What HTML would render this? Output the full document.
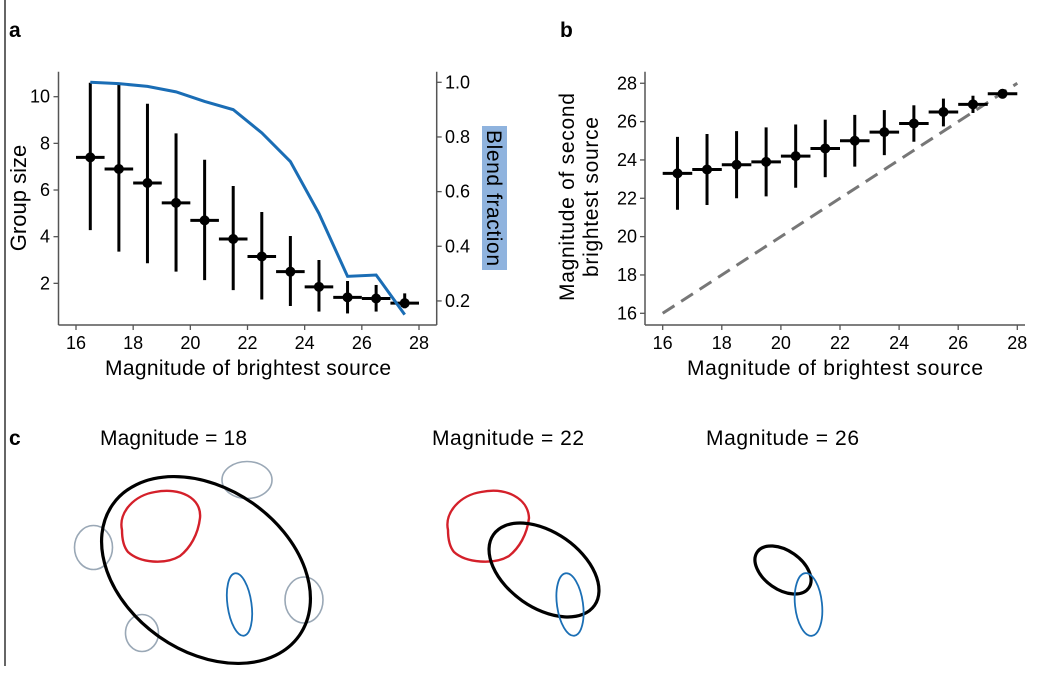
<!DOCTYPE html>
<html><head><meta charset="utf-8">
<style>
html,body{margin:0;padding:0;background:#fff;}
svg{display:block;font-family:"Liberation Sans",sans-serif;}
</style></head>
<body>
<svg id="fig" width="1062" height="684" viewBox="0 0 1062 684" xmlns="http://www.w3.org/2000/svg">
<line x1="5" y1="0" x2="5" y2="666" stroke="#333" stroke-width="1.5"/>
<text x="9" y="37" font-size="21" font-weight="bold">a</text>
<text x="560" y="37" font-size="21" font-weight="bold">b</text>
<text x="9" y="445" font-size="21" font-weight="bold">c</text>
<g id="pa"></g>
<g id="pb"></g>
<g id="pc">
  <text x="100" y="445" font-size="21" textLength="147">Magnitude = 18</text>
  <text x="432" y="445" font-size="21" textLength="152">Magnitude = 22</text>
  <text x="706" y="445" font-size="21" textLength="153">Magnitude = 26</text>
  <g fill="none" stroke="#9aa8b6" stroke-width="1.6">
    <ellipse cx="93.5" cy="547.5" rx="19" ry="22"/>
    <ellipse cx="247" cy="480" rx="25" ry="18.5"/>
    <ellipse cx="304" cy="600" rx="19" ry="23"/>
    <ellipse cx="142" cy="633" rx="16.5" ry="18.5"/>
  </g>
  <ellipse cx="206" cy="570" rx="114" ry="81.5" transform="rotate(35 206 570)" fill="none" stroke="#000" stroke-width="3.2"/>
  <path d="M122,530 C118,512 135,495 155,492 C180,487 202,498 200,518 C198,535 190,548 180,556 C165,565 140,563 128,552 C123,546 122,538 122,530 Z" fill="none" stroke="#d4202a" stroke-width="2.4"/>
  <ellipse cx="239.5" cy="604.5" rx="12" ry="31.5" transform="rotate(-8 239.5 604.5)" fill="none" stroke="#1b6fb5" stroke-width="1.8"/>
  <path d="M448,530 C444,512 461,495 481,492 C506,487 528,498 529,518 C527,535 519,548 509,556 C494,565 466,563 454,552 C449,546 448,538 448,530 Z" fill="none" stroke="#d4202a" stroke-width="2.4"/>
  <ellipse cx="544" cy="570" rx="61.7" ry="37.7" transform="rotate(35 544 570)" fill="none" stroke="#000" stroke-width="3.2"/>
  <ellipse cx="570" cy="604.5" rx="13" ry="31.5" transform="rotate(-8 570 604.5)" fill="none" stroke="#1b6fb5" stroke-width="1.8"/>
  <ellipse cx="783" cy="570" rx="31.4" ry="19.4" transform="rotate(35 783 570)" fill="none" stroke="#000" stroke-width="3.2"/>
  <ellipse cx="808.5" cy="604.5" rx="13.5" ry="31.5" transform="rotate(-6 808.5 604.5)" fill="none" stroke="#1b6fb5" stroke-width="1.8"/>
</g>
</svg>
<script>
const NS="http://www.w3.org/2000/svg";
// Panel a data
const binsA=[16.5,17.5,18.5,19.5,20.5,21.5,22.5,23.5,24.5,25.5,26.5,27.5];
const groupMean=[7.4,6.9,6.3,5.45,4.7,3.9,3.15,2.5,1.85,1.4,1.35,1.15];
const groupHi=[10.6,10.5,9.7,8.43,7.3,6.17,5.06,4.03,3.0,2.1,1.93,1.57];
const groupLo=[4.28,3.36,2.86,2.5,2.14,1.71,1.31,1.03,0.79,0.71,0.79,0.93];
const blendFrac=[1.0,0.995,0.985,0.965,0.93,0.9,0.815,0.71,0.52,0.29,0.295,0.15];
const xTicksA=[16,18,20,22,24,26,28];
const yTicksA=[2,4,6,8,10];
const y2TicksA=["0.2","0.4","0.6","0.8","1.0"];
// Panel b data
const binsB=[16.5,17.5,18.5,19.5,20.5,21.5,22.5,23.5,24.5,25.5,26.5,27.5];
const secMean=[23.3,23.5,23.75,23.9,24.2,24.6,25.0,25.45,25.9,26.5,26.9,27.45];
const secHi=[25.2,25.35,25.5,25.7,25.85,26.1,26.35,26.6,26.85,27.2,27.35,27.7];
const secLo=[21.4,21.65,22.0,22.1,22.55,23.1,23.65,24.25,24.95,25.75,26.45,27.2];
const xTicksB=[16,18,20,22,24,26,28];
const yTicksB=[16,18,20,22,24,26,28];
const diagLine=[16,28];

function mk(parent,tag,attrs){const e=document.createElementNS(NS,tag);for(const k in attrs)e.setAttribute(k,attrs[k]);parent.appendChild(e);return e;}
function txt(parent,x,y,s,size,anchor,extra){const t=mk(parent,"text",Object.assign({x:x,y:y,"font-size":size,"text-anchor":anchor||"middle"},extra||{}));t.textContent=s;return t;}

// ---- Panel a ----
const pa=document.getElementById("pa");
const xA=v=>76+(v-16)*(343/12);
const yA=v=>330-v*23.33;
const y2A=v=>82.3+(1.0-v)*273.3;
let e;
e=mk(pa,"line",{x1:58.5,y1:71.7,x2:58.5,y2:325,stroke:"#555","stroke-width":1.5});


e=mk(pa,"line",{x1:58.5,y1:325,x2:436.7,y2:325,stroke:"#555","stroke-width":1.5});


e=mk(pa,"line",{x1:436.7,y1:71.7,x2:436.7,y2:325,stroke:"#555","stroke-width":1.5});


xTicksA.forEach(v=>{
  e=mk(pa,"line",{x1:xA(v),y1:325,x2:xA(v),y2:330,stroke:"#555","stroke-width":1.3});
  
  
  e=txt(pa,xA(v),349,String(v),18);
  
  
});
yTicksA.forEach(v=>{
  e=mk(pa,"line",{x1:53.5,y1:yA(v),x2:58.5,y2:yA(v),stroke:"#555","stroke-width":1.3});
  
  
  e=txt(pa,50,yA(v)+6,String(v),18,"end");
  
  
});
y2TicksA.forEach(s=>{
  const v=parseFloat(s);
  e=mk(pa,"line",{x1:436.7,y1:y2A(v),x2:441.7,y2:y2A(v),stroke:"#555","stroke-width":1.3});
  
  
  e=txt(pa,445,y2A(v)+6,s,18,"start");
  
  
});
e=txt(pa,248,375,"Magnitude of brightest source",21,"middle",{textLength:286});


e=txt(pa,0,0,"Group size",22,"middle",{transform:"translate(26,198) rotate(-90)"});


e=mk(pa,"rect",{x:482,y:126,width:25,height:144,fill:"#8fb3de"});


e=txt(pa,0,0,"Blend fraction",21,"middle",{transform:"translate(487,198) rotate(90)",textLength:136});


binsA.forEach((b,i)=>{
  e=mk(pa,"line",{x1:xA(b),y1:yA(groupHi[i]),x2:xA(b),y2:yA(groupLo[i]),stroke:"#000","stroke-width":3});
  
  
  e=mk(pa,"line",{x1:xA(b-0.5),y1:yA(groupMean[i]),x2:xA(b+0.5),y2:yA(groupMean[i]),stroke:"#000","stroke-width":3});
  
  
  e=mk(pa,"circle",{cx:xA(b),cy:yA(groupMean[i]),r:5,fill:"#000"});
  
  
});
e=mk(pa,"polyline",{points:binsA.map((b,i)=>xA(b)+","+y2A(blendFrac[i])).join(" "),fill:"none",stroke:"#1a6db5","stroke-width":3});



// ---- Panel b ----
const pb=document.getElementById("pb");
const xB=v=>662.7+(v-16)*(354.6/12);
const yB=v=>313.3-(v-16)*19.17;
e=mk(pb,"line",{x1:645,y1:71.7,x2:645,y2:325,stroke:"#555","stroke-width":1.5});


e=mk(pb,"line",{x1:645,y1:325,x2:1025,y2:325,stroke:"#555","stroke-width":1.5});


xTicksB.forEach(v=>{
  e=mk(pb,"line",{x1:xB(v),y1:325,x2:xB(v),y2:330,stroke:"#555","stroke-width":1.3});
  
  
  e=txt(pb,xB(v),349,String(v),18);
  
  
});
yTicksB.forEach(v=>{
  e=mk(pb,"line",{x1:640,y1:yB(v),x2:645,y2:yB(v),stroke:"#555","stroke-width":1.3});
  
  
  e=txt(pb,637,yB(v)+6,String(v),18,"end");
  
  
});
e=txt(pb,835,375,"Magnitude of brightest source",21,"middle",{textLength:296});


e=txt(pb,0,0,"Magnitude of second",21,"middle",{transform:"translate(574,197) rotate(-90)",textLength:208});


e=txt(pb,0,0,"brightest source",21,"middle",{transform:"translate(598,197) rotate(-90)",textLength:160});


e=mk(pb,"line",{x1:xB(diagLine[0]),y1:yB(diagLine[0]),x2:xB(diagLine[1]),y2:yB(diagLine[1]),stroke:"#777","stroke-width":3,"stroke-dasharray":"14,8"});


binsB.forEach((b,i)=>{
  e=mk(pb,"line",{x1:xB(b),y1:yB(secHi[i]),x2:xB(b),y2:yB(secLo[i]),stroke:"#000","stroke-width":3});
  
  
  e=mk(pb,"line",{x1:xB(b-0.5),y1:yB(secMean[i]),x2:xB(b+0.5),y2:yB(secMean[i]),stroke:"#000","stroke-width":3});
  
  
  e=mk(pb,"circle",{cx:xB(b),cy:yB(secMean[i]),r:5,fill:"#000"});
  
  
});
</script>
</body></html>
